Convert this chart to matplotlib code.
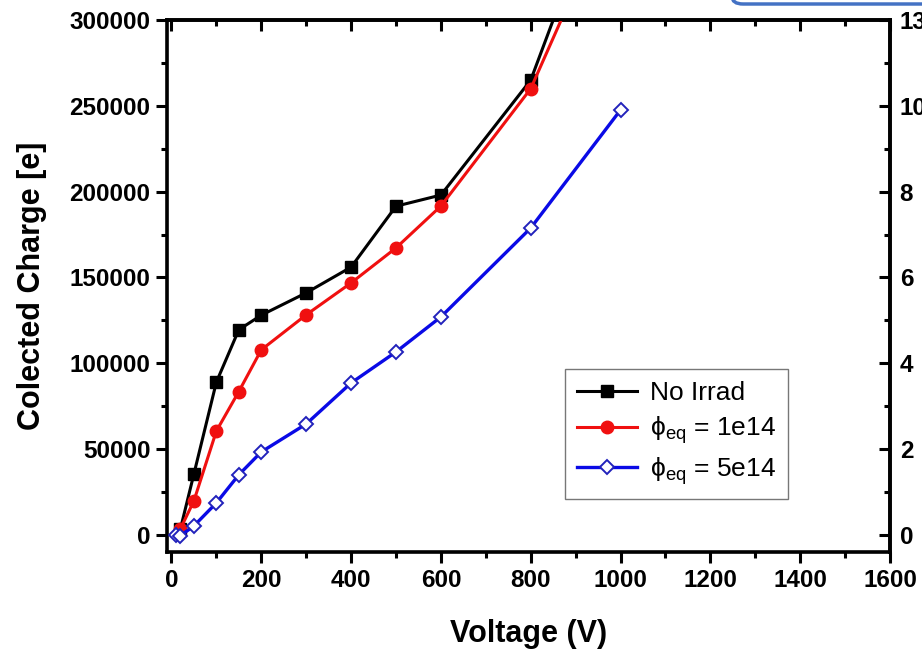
from matplotlib import pyplot as plt
from matplotlib.patches import FancyBboxPatch
from matplotlib.ticker import MultipleLocator

# voltage points (V)
volts_a = [20, 50, 100, 150, 200, 300, 400, 500, 600, 800, 1000]
volts_b = [10, 20, 50, 100, 150, 200, 300, 400, 500, 600, 800, 1000]

# collected charge [e]
no_irrad = [3500, 35500, 89000, 119500, 128000, 141000, 156000, 191500, 198000, 265000, 405000]
phi_1e14 = [3500, 19800, 60500, 83500, 107800, 128200, 146800, 167200, 191600, 260000, 378000]
phi_5e14 = [0, -500, 5200, 18600, 35000, 48300, 64600, 88500, 106600, 127000, 178800, 247600]

labels = ['No Irrad', r'$\phi_{eq}$ = 1e14', r'$\phi_{eq}$ = 5e14']

y_ticks = [0, 50000, 100000, 150000, 200000, 250000, 300000]
right_labels = ['0', '2', '4', '6', '8', '10', '13']


def setTicks(axis, direction):
    axis.tick_params(which='both', direction=direction, width=2.2)
    axis.tick_params(which='major', length=8)
    axis.tick_params(which='minor', length=4.5)


def main():
    plt.rcParams['font.family'] = ['Liberation Sans', 'DejaVu Sans']
    plt.rcParams['mathtext.default'] = 'regular'

    fig = plt.figure(figsize=(9.22, 6.52), dpi=100)
    ax = fig.add_axes([0.1811, 0.1534, 0.7842, 0.8159])

    ax.plot(volts_a, no_irrad, '-', color='black', lw=2.2, marker='s', ms=8.5,
            label=labels[0], zorder=3)
    ax.plot(volts_a, phi_1e14, '-', color='#f01010', lw=2.2, marker='o', ms=9,
            label=labels[1], zorder=3)
    ax.plot(volts_b, phi_5e14, '-', color='#0a0ae6', lw=2.4, marker='D', ms=7.5,
            mfc='white', mec='#2222bb', mew=1.4, label=labels[2], zorder=3)

    ax.set_xlim(-10, 1600)
    ax.set_ylim(-10000, 300000)
    ax.set_yticks(y_ticks)
    ax.xaxis.set_major_locator(MultipleLocator(200))
    ax.xaxis.set_minor_locator(MultipleLocator(100))
    ax.yaxis.set_minor_locator(MultipleLocator(25000))

    for s in ax.spines.values():
        s.set_linewidth(2.6)

    setTicks(ax, 'out')
    ax.tick_params(labelsize=17.5, pad=4)
    for lab in ax.get_xticklabels() + ax.get_yticklabels():
        lab.set_fontweight('bold')

    # top axis, ticks pointing inward
    top = ax.secondary_xaxis('top')
    top.xaxis.set_major_locator(MultipleLocator(200))
    top.xaxis.set_minor_locator(MultipleLocator(100))
    setTicks(top, 'in')
    top.tick_params(labeltop=False)
    top.spines['top'].set_linewidth(2.6)

    # right axis, same ticks, labels from the original figure
    ax2 = ax.twinx()
    ax2.set_ylim(ax.get_ylim())
    ax2.set_yticks(y_ticks)
    ax2.set_yticklabels(right_labels, fontweight='bold')
    ax2.yaxis.set_minor_locator(MultipleLocator(25000))
    setTicks(ax2, 'in')
    ax2.tick_params(labelsize=17.5, pad=7)
    ax2.spines['right'].set_linewidth(2.6)

    ax.set_xlabel('Voltage (V)', fontsize=22, fontweight='bold', labelpad=20)
    ax.set_ylabel('Colected Charge [e]', fontsize=22, fontweight='bold', labelpad=16)

    leg = ax.legend(loc='lower left', bbox_to_anchor=(0.55, 0.10), borderaxespad=0,
                    fontsize=19, handlelength=2.3, labelspacing=0.35, handletextpad=0.5,
                    borderpad=0.45, fancybox=False, framealpha=1, edgecolor='#777777')
    leg.get_frame().set_linewidth(1.0)
    leg.set_zorder(5)

    # piece of the slide box at the top right corner
    box = FancyBboxPatch((732 / 922, 648 / 652), 0.3, 0.1, boxstyle='round,pad=0,rounding_size=0.012',
                         transform=fig.transFigure, facecolor='white', edgecolor='#4472c4',
                         lw=2.5, clip_on=False)
    fig.patches.append(box)

    fig.savefig('out.png', dpi=100)


if __name__ == "__main__":
    main()
